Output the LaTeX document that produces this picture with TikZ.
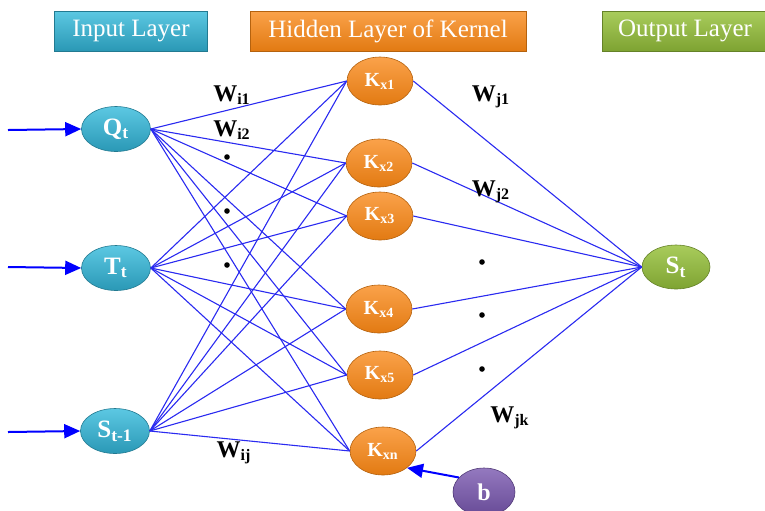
\documentclass[tikz,border=0pt]{standalone}
\usepackage{fontspec}
\setmainfont{Liberation Serif}
\usetikzlibrary{shapes.geometric,arrows.meta}
\definecolor{inTop}{HTML}{5CC8E2}
\definecolor{inBot}{HTML}{2A98B5}
\definecolor{hidTop}{HTML}{FAA24A}
\definecolor{hidBot}{HTML}{E27A12}
\definecolor{outTop}{HTML}{A9CC5C}
\definecolor{outBot}{HTML}{7EA332}
\definecolor{bTop}{HTML}{9479BF}
\definecolor{bBot}{HTML}{674A96}
\definecolor{wire}{HTML}{2A2AF0}

\begin{document}
\begin{tikzpicture}[
        x=0.5pt, y=-0.5pt,
        title/.style={rectangle,minimum height=20pt,inner sep=0pt,text=white,
            font=\fontsize{12.5}{14}\selectfont},
        neuron/.style={ellipse,inner sep=0pt,text=white,draw=#1Bot!80!black,line width=0.3pt,
            top color=#1Top,bottom color=#1Bot},
        inNode/.style={neuron=in,minimum width=34.5pt,minimum height=22.5pt,
            font=\fontsize{12.5}{14}\bfseries},
        kerNode/.style={neuron=hid,minimum width=33pt,minimum height=24pt,
            font=\fontsize{10}{12}\bfseries},
        weight/.style={font=\fontsize{12}{14}\bfseries},
        dot/.style={circle,fill=black,inner sep=0pt,minimum size=2.8pt},
        link/.style={wire,line width=0.55pt},
        feed/.style={blue,line width=1pt,-{Triangle[length=8pt,width=7pt]}}
    ]
    \useasboundingbox (0,0) rectangle (765,510);
    \node[title,top color=inTop,bottom color=inBot,draw=inBot!80!black,minimum width=76.5pt] (tin) at (131,31) {Input Layer};
    \node[title,top color=hidTop,bottom color=hidBot,draw=hidBot!80!black,minimum width=138pt] (thid) at (388,31) {Hidden Layer of Kernel};
    \node[title,top color=outTop,bottom color=outBot,draw=outBot!80!black,minimum width=83pt] (tout) at (685,31) {Output Layer};

    \node[inNode] (q) at (116,129) {Q\textsubscript{t}};
    \node[inNode] (t) at (116,268) {T\textsubscript{t}};
    \node[inNode] (s) at (115,431) {S\textsubscript{t-1}};

    \node[kerNode] (k1) at (380,81) {K\textsubscript{x1}};
    \node[kerNode] (k2) at (379,163) {K\textsubscript{x2}};
    \node[kerNode] (k3) at (380,216) {K\textsubscript{x3}};
    \node[kerNode] (k4) at (379,309) {K\textsubscript{x4}};
    \node[kerNode] (k5) at (380,375) {K\textsubscript{x5}};
    \node[kerNode] (k6) at (383,451) {K\textsubscript{xn}};

    \node[neuron=out,minimum width=34pt,minimum height=22pt,font=\fontsize{12.5}{14}\bfseries] (st) at (676,267) {S\textsubscript{t}};
    \node[neuron=b,minimum width=31pt,minimum height=24pt,font=\fontsize{12}{14}\bfseries] (b) at (484,492) {b};

    \coordinate (qarr) at (8,130);
    \coordinate (tarr) at (8,267);
    \coordinate (sarr) at (8,432);

    \foreach \i in {q,t,s}
        \foreach \j in {1,...,6}
            \draw[link] (\i.east) -- (k\j.west);
    \foreach \j in {1,...,6}
        \draw[link] (k\j.east) -- (st.west);

    \draw[feed] (qarr) -- (q.west);
    \draw[feed] (tarr) -- (t.west);
    \draw[feed] (sarr) -- (s.west);
    \draw[feed] (b.150) -- (k6.-35);

    \node[weight] (wi1) at (232,95) {W\textsubscript{i1}};
    \node[weight] (wi2) at (232,130) {W\textsubscript{i2}};
    \node[weight] (wij) at (234,453) {W\textsubscript{ij}};
    \node[weight] (wj1) at (491,97) {W\textsubscript{j1}};
    \node[weight] (wj2) at (491,192) {W\textsubscript{j2}};
    \node[weight] (wjk) at (510,418) {W\textsubscript{jk}};

    \node[dot] (d1) at (227,157) {};
    \node[dot] (d2) at (227,211) {};
    \node[dot] (d3) at (227,265) {};
    \node[dot] (d4) at (482,262) {};
    \node[dot] (d5) at (482,315) {};
    \node[dot] (d6) at (482,369) {};
\end{tikzpicture}
\end{document}
